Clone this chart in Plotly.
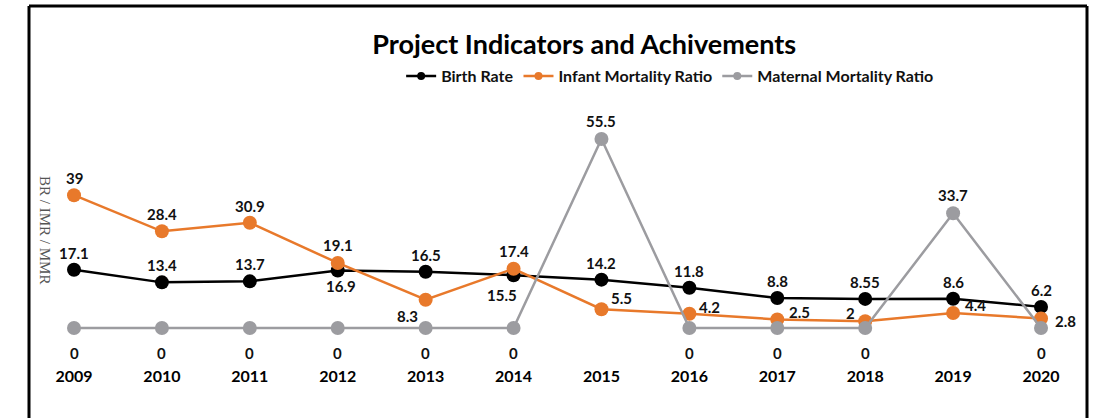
import plotly.graph_objects as go

years = ["2009", "2010", "2011", "2012", "2013", "2014", "2015", "2016", "2017", "2018", "2019", "2020"]
birth_rate = [17.1, 13.4, 13.7, 16.9, 16.5, 15.5, 14.2, 11.8, 8.8, 8.55, 8.6, 6.2]
infant_mortality = [39, 28.4, 30.9, 19.1, 8.3, 17.4, 5.5, 4.2, 2.5, 2, 4.4, 2.8]
maternal_mortality = [0, 0, 0, 0, 0, 0, 55.5, 0, 0, 0, 33.7, 0]

# label offsets in pixels (dx right, dy down) relative to each point
br_off = [(0, -17), (0, -17), (0, -17), (3, 16), (0, -17), (-12, 20),
          (0, -17), (0, -17), (0, -17), (0, -17), (0, -17), (0, -17)]
imr_off = [(0, -17), (0, -17), (0, -17), (0, -18), (-18, 16), (0, -18),
           (20, -11), (20, -7), (22, -7), (-15, -8), (22, -8), (24, 3)]
mmr_off = [(0, 25) if v == 0 else (0, -18) for v in maternal_mortality]

colors = {"br": "#000000", "imr": "#E8792B", "mmr": "#9C9CA0"}
label_font = dict(family="Lato", size=15, color="#111111", weight="bold")


def fmt(v):
    return f"{v:g}"


fig = go.Figure()
series = [
    ("Birth Rate", birth_rate, colors["br"], br_off),
    ("Infant Mortality Ratio", infant_mortality, colors["imr"], imr_off),
    ("Maternal Mortality Ratio", maternal_mortality, colors["mmr"], mmr_off),
]

for name, vals, col, offs in series:
    fig.add_trace(go.Scatter(
        x=years, y=vals, name=name, mode="lines+markers", showlegend=False,
        line=dict(color=col, width=2.5), marker=dict(size=14, color=col)))

for name, vals, col, offs in series:
    # legend-only entry with small markers
    fig.add_trace(go.Scatter(
        x=[None], y=[None], name=name, mode="lines+markers",
        line=dict(color=col, width=2.5), marker=dict(size=8, color=col)))

for name, vals, col, offs in series:
    for i, (v, (dx, dy)) in enumerate(zip(vals, offs)):
        fig.add_annotation(x=i, y=v, xref="x", yref="y", text=fmt(v), showarrow=False,
                           xshift=dx, yshift=-dy, xanchor="center", yanchor="middle",
                           font=label_font)

fig.update_layout(
    width=1094, height=418,
    margin=dict(l=29, r=7, t=6, b=53),
    paper_bgcolor="white", plot_bgcolor="white",
    title=dict(text="<b>Project Indicators and Achivements</b>", x=0.534, xanchor="center",
               y=1 - 45 / 418, yanchor="middle", yref="container",
               font=dict(family="Lato", size=27, color="#000000")),
    legend=dict(orientation="h", x=0.606, xanchor="center", y=0.805, yanchor="middle",
                font=dict(family="Lato", size=16, color="#111111", weight="bold"),
                bgcolor="rgba(0,0,0,0)", itemwidth=30),
    xaxis=dict(type="category", range=[-0.512, 11.523], showgrid=False, zeroline=False,
               showline=False, ticks="",
               tickfont=dict(family="Lato", size=16, color="#000000", weight="bold")),
    yaxis=dict(range=[-10.87, 94.57], showgrid=False, zeroline=False, showline=False,
               showticklabels=False, ticks=""),
    showlegend=True,
)

fig.add_annotation(text="BR / IMR / MMR", xref="paper", yref="paper", x=0.0151, y=0.376,
                   textangle=90, showarrow=False, xanchor="center", yanchor="middle",
                   font=dict(family="Liberation Serif", size=15, color="#555555"))

border = dict(color="#000000", width=3)
fig.add_shape(type="line", xref="paper", yref="paper", x0=0, x1=0, y0=-0.2, y1=1, line=border)
fig.add_shape(type="line", xref="paper", yref="paper", x0=0, x1=1, y0=1, y1=1, line=border)
fig.add_shape(type="line", xref="paper", yref="paper", x0=1, x1=1, y0=-0.2, y1=1, line=border)

fig.write_html("out.html", config={"displayModeBar": False},
               post_script="document.body.style.margin='0px';")
